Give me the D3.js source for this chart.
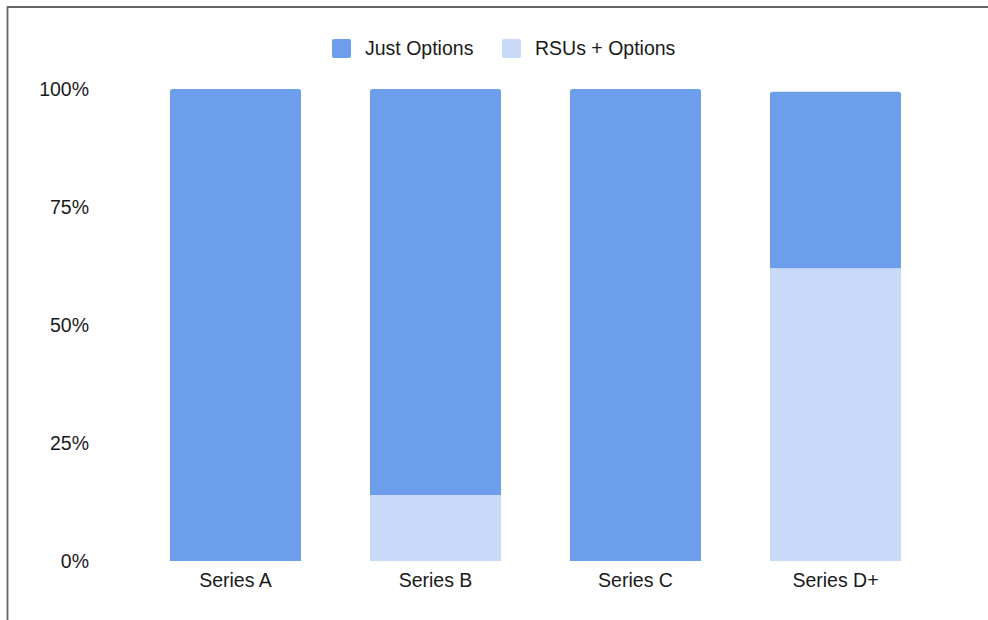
<!DOCTYPE html>
<html>
<head>
<meta charset="utf-8">
<script src="https://cdn.jsdelivr.net/npm/d3@7"></script>
<style>
  html, body { margin: 0; padding: 0; background: #fff; }
  text { font-family: "Liberation Sans", Arial, sans-serif; fill: #1a1a1a; }
</style>
</head>
<body>
<div class="chart"></div>
<script>
// values (percent of each series)
const categories = ['Series A', 'Series B', 'Series C', 'Series D+'];
const rsuOptions = [0, 14, 0, 62];
const justOptions = [100, 86, 100, 37.4];
const yTicks = [0, 25, 50, 75, 100];
const seriesNames = ['Just Options', 'RSUs + Options'];
const colors = {'Just Options': '#6d9eeb', 'RSUs + Options': '#c9daf8'};

const width = 988;
const height = 620;
const fontSize = '19.5px';

const svg = d3.select('.chart')
  .append('svg')
  .attr('width', width)
  .attr('height', height);

// frame of the screenshot
svg.append('line')
  .attr('x1', 7).attr('x2', width)
  .attr('y1', 7).attr('y2', 7)
  .attr('stroke', '#666').attr('stroke-width', 2);
svg.append('line')
  .attr('x1', 7.5).attr('x2', 7.5)
  .attr('y1', 6).attr('y2', height)
  .attr('stroke', '#666').attr('stroke-width', 1.8);

const rows = categories.map((c, i) => ({
  cat: c,
  'RSUs + Options': rsuOptions[i],
  'Just Options': justOptions[i]
}));

// light segment sits at the bottom
const stack = d3.stack().keys(['RSUs + Options', 'Just Options']);
const layers = stack(rows);

const x = d3.scaleBand()
  .domain(categories)
  .range([135.5, 935.5])
  .paddingInner(0.345)
  .paddingOuter(0.1725);

const y = d3.scaleLinear()
  .domain([0, 100])
  .range([561, 89]);

// y labels
svg.append('g')
  .selectAll('text')
  .data(yTicks)
  .join('text')
  .attr('x', 89)
  .attr('y', d => y(d))
  .attr('dy', '0.35em')
  .attr('text-anchor', 'end')
  .style('font-size', fontSize)
  .text(d => d + '%');

// bar with small rounded top corners
function barPath(x0, y0, w, h, r) {
  if (h <= 0) return '';
  r = Math.min(r, h);
  return `M${x0},${y0 + h}V${y0 + r}Q${x0},${y0} ${x0 + r},${y0}` +
    `H${x0 + w - r}Q${x0 + w},${y0} ${x0 + w},${y0 + r}V${y0 + h}Z`;
}

const topIndex = rows.map(r => r['Just Options'] > 0 ? 1 : 0);

svg.append('g')
  .selectAll('g')
  .data(layers)
  .join('g')
  .attr('fill', d => colors[d.key])
  .selectAll('path')
  .data((d, li) => d.map((v, i) => ({v, i, li})))
  .join('path')
  .attr('d', d => {
    const x0 = x(categories[d.i]);
    const y0 = y(d.v[1]);
    const h = y(d.v[0]) - y(d.v[1]);
    const r = topIndex[d.i] === d.li ? 2.5 : 0;
    return barPath(x0, y0, x.bandwidth(), h, r);
  });

// x labels
svg.append('g')
  .selectAll('text')
  .data(categories)
  .join('text')
  .attr('x', d => x(d) + x.bandwidth() / 2)
  .attr('y', 587)
  .attr('text-anchor', 'middle')
  .style('font-size', fontSize)
  .text(d => d);

// legend
const legendX = [332, 502];
const legend = svg.append('g')
  .selectAll('g')
  .data(seriesNames)
  .join('g')
  .attr('transform', (d, i) => `translate(${legendX[i]},39)`);

legend.append('rect')
  .attr('width', 19)
  .attr('height', 19)
  .attr('rx', 2)
  .attr('fill', d => colors[d]);

legend.append('text')
  .attr('x', 33)
  .attr('y', 15.5)
  .style('font-size', fontSize)
  .text(d => d);
</script>
</body>
</html>
